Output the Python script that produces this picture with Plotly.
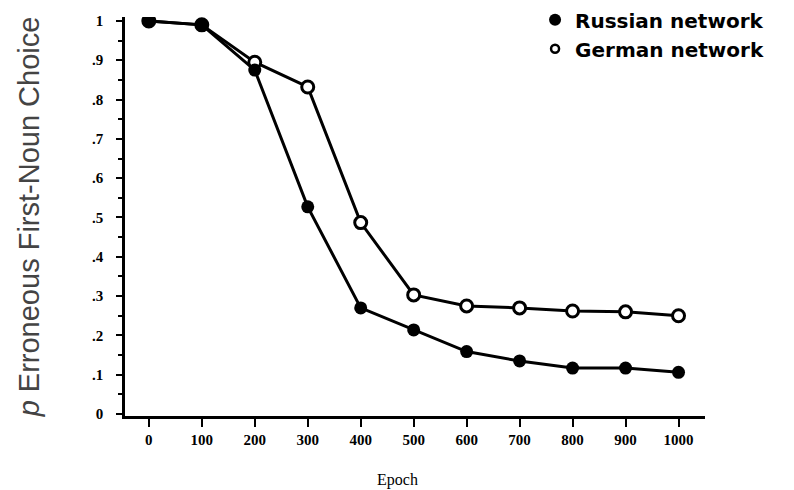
import plotly.graph_objects as go

epochs = [0, 100, 200, 300, 400, 500, 600, 700, 800, 900, 1000]
russian = [1.0, 0.99, 0.875, 0.527, 0.27, 0.214, 0.159, 0.135, 0.117, 0.117, 0.106]
german = [1.0, 0.99, 0.895, 0.832, 0.487, 0.303, 0.275, 0.27, 0.262, 0.26, 0.25]
y_ticks = [0, 0.1, 0.2, 0.3, 0.4, 0.5, 0.6, 0.7, 0.8, 0.9, 1.0]
y_labels = ["0", ".1", ".2", ".3", ".4", ".5", ".6", ".7", ".8", ".9", "1"]
x_labels = ["0", "100", "200", "300", "400", "500", "600", "700", "800", "900", "1000"]

fig = go.Figure()
fig.add_trace(go.Scatter(
    x=epochs, y=german, mode="lines+markers", name="German network", showlegend=False,
    line=dict(color="black", width=3),
    marker=dict(symbol="circle", size=12, color="white", line=dict(color="black", width=3)),
))
fig.add_trace(go.Scatter(
    x=epochs, y=russian, mode="lines+markers", name="Russian network", showlegend=False,
    line=dict(color="black", width=3),
    marker=dict(symbol="circle", size=13, color="black"),
))
# legend entries (markers only)
fig.add_trace(go.Scatter(
    x=[None], y=[None], mode="markers", name="Russian network",
    marker=dict(symbol="circle", size=12, color="black"),
))
fig.add_trace(go.Scatter(
    x=[None], y=[None], mode="markers", name="German network",
    marker=dict(symbol="circle", size=8, color="white", line=dict(color="black", width=2.5)),
))

fig.update_layout(
    width=794, height=490,
    margin=dict(l=117, r=97, t=9, b=82, autoexpand=False),
    paper_bgcolor="white", plot_bgcolor="white",
    showlegend=True,
    legend=dict(x=0.707, y=1.042, xanchor="left", yanchor="top",
                font=dict(family="DejaVu Sans", size=20, color="black", weight="bold"),
                bgcolor="rgba(0,0,0,0)", itemwidth=30, tracegroupgap=0),
    xaxis=dict(
        range=[-45, 1050], tickvals=epochs, ticktext=x_labels,
        showgrid=False, zeroline=False,
        showline=True, linecolor="black", linewidth=2.5,
        ticks="outside", ticklen=8, tickwidth=2, tickcolor="black",
        tickfont=dict(family="Liberation Serif", size=15, color="black", weight="bold"),
    ),
    yaxis=dict(
        range=[-0.005, 1.01], tickvals=y_ticks, ticktext=y_labels,
        showgrid=False, zeroline=False,
        showline=True, linecolor="black", linewidth=2.5,
        ticks="outside", ticklen=6, tickwidth=2, tickcolor="black",
        ticklabelstandoff=10,
        minor=dict(dtick=0.05, tick0=0, ticks="outside", ticklen=4, tickwidth=1.5, tickcolor="black"),
        tickfont=dict(family="Liberation Serif", size=15, color="black", weight="bold"),
        title=dict(text="<i>p</i> Erroneous First-Noun Choice",
                   font=dict(family="Liberation Sans", size=29, color="#444444"), standoff=44),
    ),
    annotations=[dict(
        text="Epoch", x=0.47, y=-0.16, xref="paper", yref="paper",
        xanchor="center", yanchor="middle", showarrow=False,
        font=dict(family="Liberation Serif", size=16, color="black"),
    )],
)

fig.write_html("out.html")
